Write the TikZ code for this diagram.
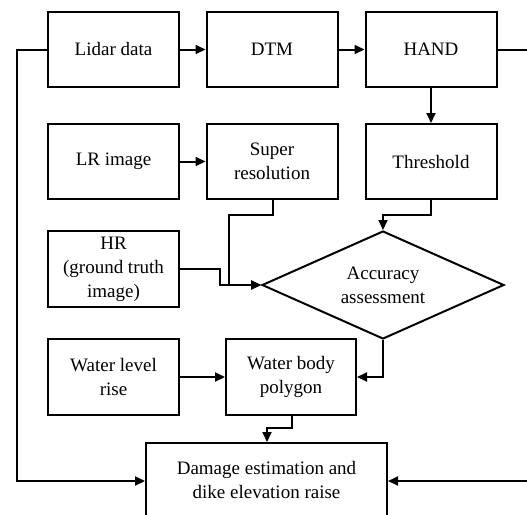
\documentclass[tikz,border=0pt]{standalone}
\usepackage{fontspec}
\setmainfont{Liberation Serif}
\usetikzlibrary{shapes.geometric,arrows.meta}
\begin{document}
\begin{tikzpicture}[x=1pt,y=-1pt,
  box/.style={draw,line width=2pt,minimum width=131pt,minimum height=75pt,inner sep=2pt,align=center,
    font=\fontsize{19}{24}\selectfont},
  txt/.style={align=center,inner sep=0pt,font=\fontsize{19}{24}\selectfont},
  conn/.style={line width=2pt},
  arr/.style={line width=2pt,-{Triangle[length=10pt,width=9pt]}}]
\useasboundingbox (0,0) rectangle (527,514);
\clip (0,0) rectangle (527,514);
% nodes
\node[box] (lidar) at (113.5,49.5) {Lidar data};
\node[box] (dtm) at (272,49.5) {DTM};
\node[box] (hand) at (431,49.5) {HAND};
\node[box] (lr) at (113.5,161.5) {LR image};
\node[box] (sr) at (272,161.5) {Super\\resolution};
\node[box] (thr) at (431,161.5) {Threshold};
\node[box,minimum height=76pt] (hr) at (113.5,269) {HR\\(ground truth\\image)};
\node[draw,line width=2pt,shape=diamond,aspect=2.24,minimum width=242pt,minimum height=108pt,inner sep=0pt,align=center,
  font=\fontsize{19}{24}\selectfont] (acc) at (383,285) {Accuracy\\assessment};
\node[box,minimum height=76pt] (wl) at (113.5,377) {Water level\\rise};
\node[box,minimum width=130pt,minimum height=76pt] (wb) at (291,377) {Water body\\polygon};
\node[box,minimum width=241pt,minimum height=94pt] (dmg) at (266.5,490) {};
\node[txt] (dmgtext) at (266.5,480) {Damage estimation and\\dike elevation raise};
\coordinate (rtop) at (535,49.5);
\coordinate (rbot) at (535,481);
% connectors
\draw[arr] (lidar) -- (dtm);
\draw[arr] (dtm) -- (hand);
\draw[arr] (hand) -- (thr);
\draw[arr] (lr) -- (sr);
\draw[arr] (sr.south -| 273,0) -- (273,215) -- (229,215) -- (229,285) -- (acc.west);
\draw[arr] (hr.east |- 0,269) -- (220,269) -- (220,285) -- (acc.west);
\draw[arr] (thr.south) -- (431,215) -- (383,215) -- (acc.north);
\draw[arr] (acc.south) -- (383,377) -- (wb.east);
\draw[arr] (wl) -- (wb);
\draw[arr] (wb.south -| 292,0) -- (292,428) -- (267,428) -- (dmg.north -| 267,0);
\draw[arr] (lidar.west) -- (17,49.5) -- (17,481) -- (dmg.west |- 0,481);
\draw[conn] (hand.east) -- (rtop);
\draw[arr] (rbot) -- (dmg.east |- 0,481);
\end{tikzpicture}
\end{document}
